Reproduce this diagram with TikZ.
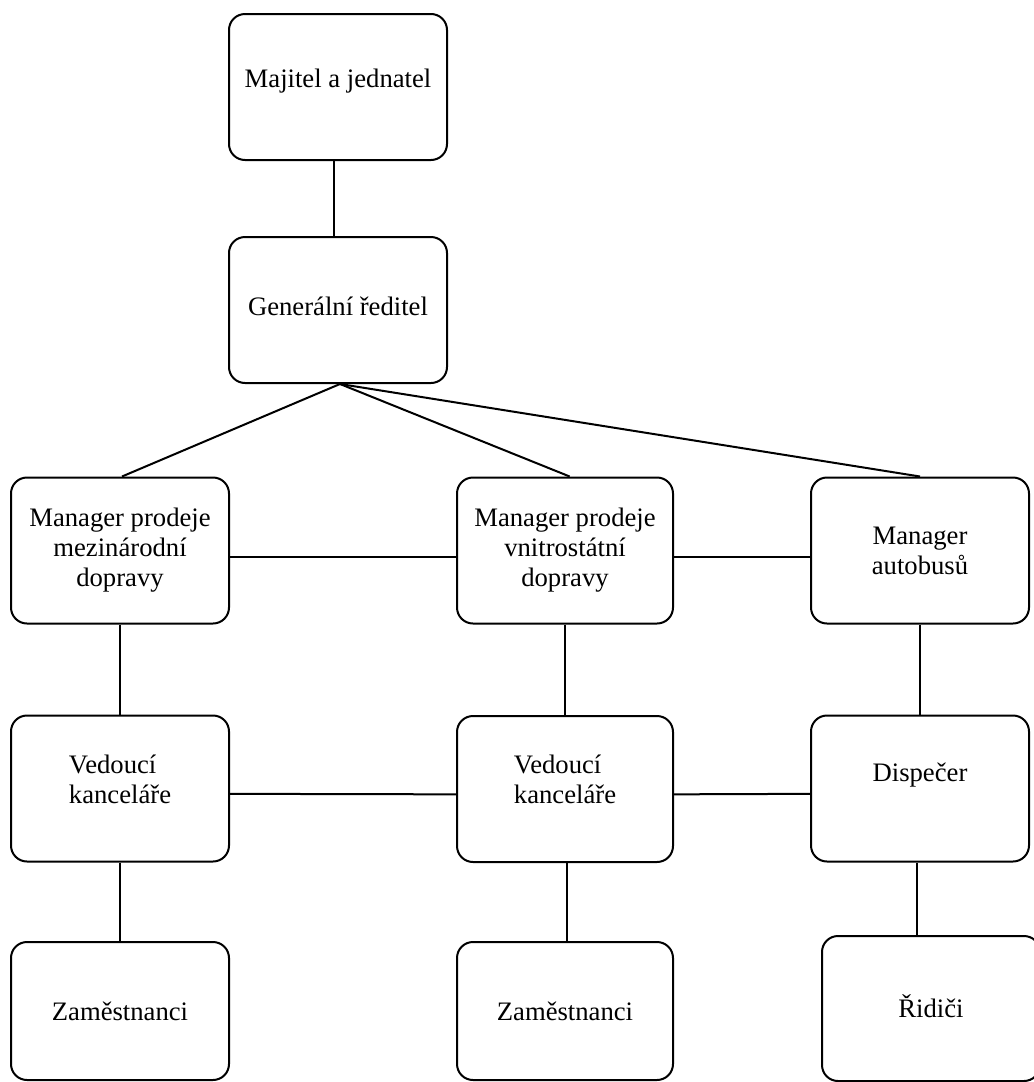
\documentclass[tikz,border=0pt]{standalone}
\usepackage{fontspec}
\setmainfont{Liberation Serif}
\usepackage{tikz}
\usetikzlibrary{positioning}

\begin{document}
\begin{tikzpicture}[x=0.75pt,y=-0.75pt,
  unit/.style={draw,line width=1.5pt,rounded corners=12pt,inner sep=0pt,
    minimum width=163.5pt,minimum height=109.5pt,align=center,
    font=\fontsize{20}{22.5}\selectfont},
  link/.style={line width=1.5pt}]
\useasboundingbox (0,0) rectangle (1033,1082);
% top of the firm
\node[unit,text height=10pt,text depth=10pt] (own) at (338,87) {Majitel a jednatel};
\node[unit,text height=13pt,text depth=5.5pt] (ceo) at (338,310) {Generální ředitel};
% managers
\node[unit] (intl) at (120,550.5) {Manager prodeje\\mezinárodní\\dopravy};
\node[unit,minimum width=162pt] (dom) at (565,550.5) {Manager prodeje\\vnitrostátní\\dopravy};
\node[unit] (bus) at (920,550.5) {Manager\\autobusů};
% second level
\node[unit,align=left,text height=36.2pt,text depth=14.4pt] (off1) at (120,788.5) {Vedoucí\\kanceláře};
\node[unit,align=left,minimum width=162pt,text height=36.2pt,text depth=14.4pt] (off2) at (565,789) {Vedoucí\\kanceláře};
\node[unit,text height=13.5pt,text depth=24.7pt] (disp) at (920,788.5) {Dispečer};
% bottom row
\node[unit,minimum height=103.5pt] (staff1) at (120,1011) {Zaměstnanci};
\node[unit,minimum width=162pt,minimum height=103.5pt] (staff2) at (565,1011) {Zaměstnanci};
\node[unit,minimum height=108.75pt,text height=13.5pt,text depth=0pt] (drivers) at (931,1008.5) {Řidiči};

\draw[link] ([xshift=-3pt]own.south) -- ([xshift=-3pt]ceo.north);
\draw[link] ([xshift=1.5pt]ceo.south) -- ([xshift=1.5pt]intl.north);
\draw[link] ([xshift=1.5pt]ceo.south) -- ([xshift=3.5pt]dom.north);
\draw[link] ([xshift=1.5pt]ceo.south) -- (bus.north);
\draw[link] ([yshift=-5pt]intl.east) -- ([yshift=-5pt]dom.west);
\draw[link] ([yshift=-5pt]dom.east) -- ([yshift=-5pt]bus.west);
\draw[link] (intl.south) -- (off1.north);
\draw[link] (dom.south) -- (off2.north);
\draw[link] (bus.south) -- (disp.north);
\draw[link] ([yshift=-4pt]off1.east) -- ([yshift=-4pt]off2.west);
\draw[link] ([yshift=-4pt]off2.east) -- ([yshift=-4pt]disp.west);
\draw[link] (off1.south) -- (staff1.north);
\draw[link] ([xshift=1.5pt]off2.south) -- ([xshift=1.5pt]staff2.north);
\draw[link] ([xshift=-2pt]disp.south) -- ([xshift=-2pt]disp.south |- drivers.north);
\end{tikzpicture}
\end{document}
